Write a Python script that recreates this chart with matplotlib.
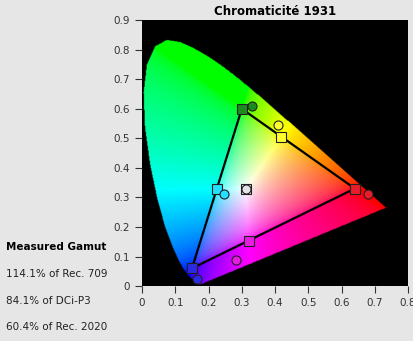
"""
CIE 1931 chromaticity diagram with measured gamut
"""
import numpy as np
import matplotlib.pyplot as plt
from matplotlib.path import Path

# CIE 1931 2-degree spectral locus (x, y), 380-700 nm
locus_x = [0.1741, 0.1733, 0.1714, 0.1689, 0.1644, 0.1566, 0.1440, 0.1355, 0.1241,
           0.1096, 0.0913, 0.0687, 0.0454, 0.0235, 0.0082, 0.0039, 0.0139, 0.0389,
           0.0743, 0.1142, 0.1547, 0.1929, 0.2296, 0.2658, 0.3016, 0.3373, 0.3731,
           0.4087, 0.4441, 0.4788, 0.5125, 0.5448, 0.5752, 0.6029, 0.6270, 0.6658,
           0.6915, 0.7079, 0.7190, 0.7260, 0.7300, 0.7334, 0.7347]
locus_y = [0.0050, 0.0048, 0.0051, 0.0069, 0.0109, 0.0177, 0.0297, 0.0399, 0.0578,
           0.0868, 0.1327, 0.2007, 0.2950, 0.4127, 0.5384, 0.6548, 0.7502, 0.8120,
           0.8338, 0.8262, 0.8059, 0.7816, 0.7543, 0.7243, 0.6923, 0.6589, 0.6245,
           0.5896, 0.5547, 0.5202, 0.4866, 0.4544, 0.4242, 0.3965, 0.3725, 0.3340,
           0.3083, 0.2920, 0.2809, 0.2740, 0.2700, 0.2666, 0.2653]

# target points (Rec. 709) and measured points: R, G, B, C, M, Y, W
names = ['red', 'green', 'blue', 'cyan', 'magenta', 'yellow', 'white']
target_x = [0.640, 0.300, 0.150, 0.225, 0.321, 0.419, 0.3127]
target_y = [0.330, 0.600, 0.060, 0.329, 0.154, 0.505, 0.329]
measured_x = [0.680, 0.331, 0.165, 0.246, 0.282, 0.410, 0.313]
measured_y = [0.313, 0.611, 0.024, 0.311, 0.088, 0.544, 0.329]
marker_colors = ['#e81c2a', '#1d8a1d', '#2a2ae6', '#22e0ff', '#e81ce0', '#ffff30', '#e4e4e4']

gamut_lines = ['Measured Gamut', '114.1% of Rec. 709', '84.1% of DCi-P3', '60.4% of Rec. 2020']

bg = '#e6e6e6'
fig = plt.figure(figsize=(4.13, 3.41), dpi=100, facecolor=bg)
ax = fig.add_axes([0.344, 0.161, 0.644, 0.780])
ax.set_facecolor('black')

# colour fill of the horseshoe
xs = np.linspace(0, 0.8, 400)
ys = np.linspace(0.001, 0.9, 450)
gx, gy = np.meshgrid(xs, ys)
X = gx / gy
Z = (1 - gx - gy) / gy
Y = np.ones_like(gx)
r = 3.2406 * X - 1.5372 * Y - 0.4986 * Z
g = -0.9689 * X + 1.8758 * Y + 0.0415 * Z
b = 0.0557 * X - 0.2040 * Y + 1.0570 * Z
rgb = np.clip(np.dstack([r, g, b]), 0, None)
rgb = rgb / rgb.max(axis=2, keepdims=True)
rgb = np.where(rgb <= 0.0031308, 12.92 * rgb, 1.055 * rgb ** (1 / 2.4) - 0.055)
rgb = np.clip(rgb, 0, 1)
poly = Path(np.column_stack([locus_x + [locus_x[0]], locus_y + [locus_y[0]]]))
inside = poly.contains_points(np.column_stack([gx.ravel(), gy.ravel()])).reshape(gx.shape)
img = np.zeros(gx.shape + (4,))
img[..., :3] = rgb
img[..., 3] = inside
ax.imshow(img, origin='lower', extent=[0, 0.8, 0.001, 0.9], aspect='auto',
          interpolation='bilinear', zorder=1)

# Rec. 709 triangle
tri_x = [target_x[2], target_x[1], target_x[0], target_x[2]]
tri_y = [target_y[2], target_y[1], target_y[0], target_y[2]]
ax.plot(tri_x, tri_y, color='black', lw=1.6, zorder=2)

for i in range(len(names)):
    ax.plot(target_x[i], target_y[i], marker='s', ms=7, mfc=marker_colors[i],
            mec='#202020', mew=0.8, zorder=3)
    ax.plot(measured_x[i], measured_y[i], marker='o', ms=6.5, mfc=marker_colors[i],
            mec='#202020', mew=0.8, zorder=4)

ax.set_xlim(0, 0.8)
ax.set_ylim(0, 0.9)
ax.set_xticks(np.arange(0, 0.81, 0.1))
ax.set_yticks(np.arange(0, 0.91, 0.1))
ax.set_xticklabels(['0'] + ['%.1f' % v for v in np.arange(0.1, 0.81, 0.1)])
ax.set_yticklabels(['0'] + ['%.1f' % v for v in np.arange(0.1, 0.91, 0.1)])
ax.tick_params(direction='out', length=5, width=0.8, colors='#333333',
               labelsize=7.5, labelcolor='#333333')
for s in ax.spines.values():
    s.set_visible(False)
ax.set_title('Chromaticité 1931', fontsize=8.5, fontweight='bold', pad=4)

fig.text(0.015, 1 - 247 / 341, gamut_lines[0], fontsize=7.5, fontweight='bold', va='center')
for k, line in enumerate(gamut_lines[1:]):
    fig.text(0.015, 1 - (274 + 26.5 * k) / 341, line, fontsize=7.5, va='center', color='#222222')

fig.savefig('out.png', dpi=100, facecolor=bg)
